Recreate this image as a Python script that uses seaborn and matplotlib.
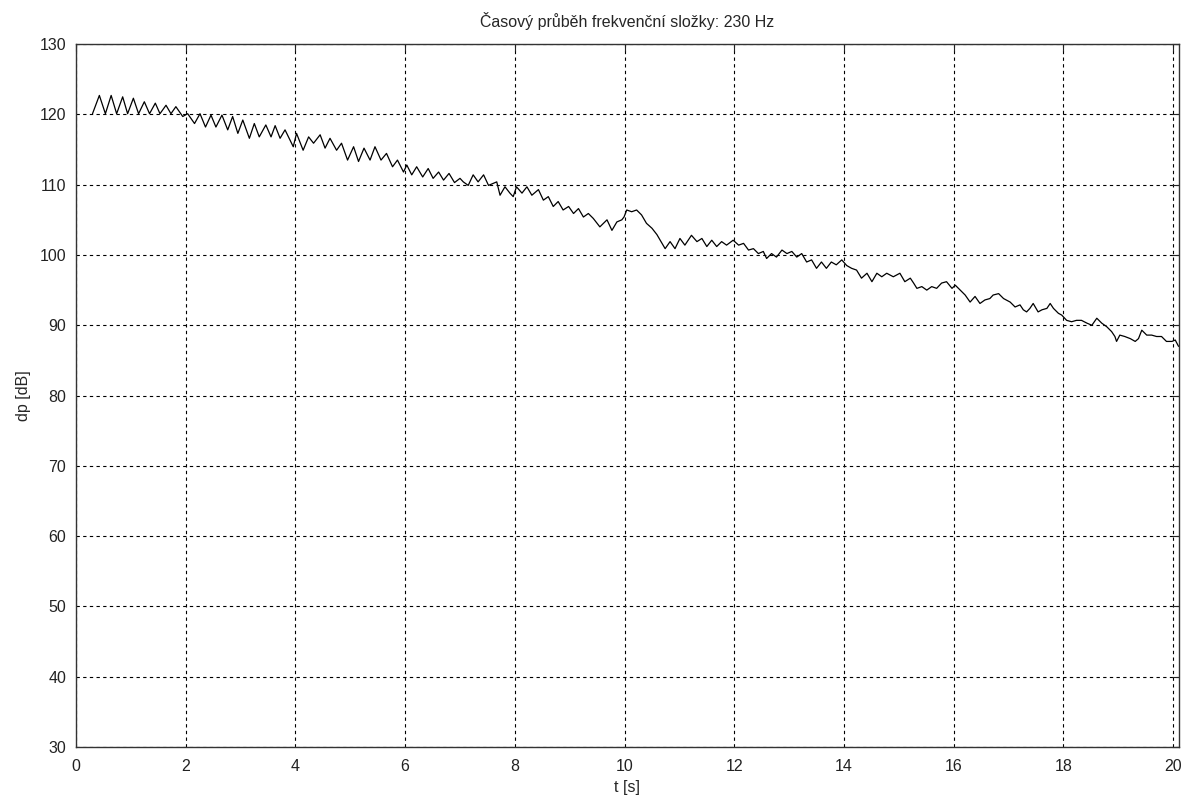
import matplotlib
matplotlib.use('Agg')
import matplotlib.pyplot as plt
import seaborn as sns
import pandas as pd

# values (time in s, level in dB)
t_s = [0.30, 0.425, 0.535, 0.64, 0.74, 0.85, 0.94, 1.045, 1.14, 1.245, 1.34, 1.445, 1.53, 1.64, 1.73, 1.82,
       1.945, 2.035, 2.16, 2.26, 2.36, 2.46, 2.55, 2.66, 2.765, 2.855, 2.95, 3.04, 3.16, 3.25, 3.34, 3.46,
       3.555, 3.63, 3.72, 3.81, 3.96, 4.02, 4.14, 4.24, 4.33, 4.45, 4.54, 4.63, 4.75, 4.84, 4.95, 5.06,
       5.15, 5.25, 5.36, 5.45, 5.56, 5.66, 5.77, 5.86, 5.97, 6.03, 6.12, 6.21, 6.32, 6.42, 6.51, 6.61,
       6.70, 6.80, 6.90, 7.00, 7.06, 7.15, 7.24, 7.33, 7.43, 7.52, 7.61, 7.67, 7.73, 7.82, 7.91, 7.97,
       8.03, 8.13, 8.22, 8.31, 8.43, 8.52, 8.61, 8.70, 8.79, 8.88, 8.98, 9.07, 9.16, 9.25, 9.34, 9.43,
       9.55, 9.68, 9.77, 9.86, 9.95, 9.99, 10.04, 10.13, 10.22, 10.31, 10.40, 10.50, 10.59, 10.65, 10.74,
       10.83, 10.92, 11.01, 11.10, 11.22, 11.32, 11.41, 11.50, 11.59, 11.68, 11.77, 11.86, 11.98, 12.08,
       12.17, 12.26, 12.35, 12.44, 12.53, 12.59, 12.68, 12.77, 12.87, 12.96, 13.05, 13.14, 13.23, 13.32,
       13.41, 13.50, 13.59, 13.68, 13.77, 13.86, 13.96, 14.05, 14.14, 14.23, 14.32, 14.42, 14.51, 14.60,
       14.69, 14.78, 14.90, 15.02, 15.11, 15.21, 15.27, 15.33, 15.42, 15.51, 15.60, 15.69, 15.78, 15.87,
       15.97, 16.03, 16.12, 16.21, 16.30, 16.39, 16.48, 16.57, 16.66, 16.72, 16.82, 16.91, 17.03, 17.12,
       17.21, 17.27, 17.33, 17.39, 17.45, 17.54, 17.61, 17.70, 17.76, 17.82, 17.91, 17.97, 18.06, 18.15,
       18.24, 18.33, 18.43, 18.52, 18.61, 18.70, 18.79, 18.88, 18.94, 18.97, 19.03, 19.12, 19.22, 19.31,
       19.37, 19.43, 19.52, 19.61, 19.70, 19.79, 19.88, 19.98, 20.04, 20.10]
dp_db = [120.1, 122.7, 120.1, 122.7, 120.1, 122.5, 120.1, 122.3, 120.1, 121.8, 120.1, 121.6, 120.1, 121.3, 120.1, 121.1,
         119.7, 120.1, 118.7, 120.1, 118.2, 119.9, 118.2, 119.9, 117.8, 119.7, 117.3, 119.2, 116.6, 118.7, 116.8, 118.5,
         116.8, 118.4, 116.6, 117.8, 115.4, 117.3, 114.9, 116.8, 115.9, 117.1, 115.2, 116.6, 114.9, 115.9, 113.5, 115.4,
         113.3, 115.2, 113.5, 115.4, 113.5, 114.45, 112.55, 113.5, 111.8, 112.8, 111.4, 112.55, 111.1, 112.3, 110.9, 111.8,
         110.65, 111.6, 110.3, 110.9, 110.4, 109.9, 111.4, 110.4, 111.4, 109.9, 110.2, 110.4, 108.5, 109.7, 108.8, 108.3,
         109.7, 108.8, 109.7, 108.5, 109.3, 107.8, 108.3, 106.9, 107.6, 106.4, 106.9, 105.9, 106.6, 105.4, 105.9, 105.2,
         104.0, 105.0, 103.5, 104.7, 105.0, 105.4, 106.4, 106.15, 106.4, 105.7, 104.5, 103.8, 102.9, 102.1, 100.9,
         101.9, 100.9, 102.35, 101.4, 102.8, 101.9, 102.35, 101.2, 102.1, 101.2, 101.9, 101.4, 102.1, 101.4,
         101.65, 100.7, 100.9, 100.2, 100.5, 99.5, 100.2, 99.7, 100.7, 100.2, 100.5, 99.7, 100.2, 99.0,
         99.3, 98.1, 99.0, 98.1, 99.0, 98.6, 99.3, 98.5, 98.1, 97.85, 96.7, 97.4, 96.2, 97.4,
         96.9, 97.4, 96.9, 97.4, 96.2, 96.7, 96.0, 95.25, 95.5, 95.0, 95.5, 95.25, 96.0, 96.2,
         95.25, 95.7, 95.0, 94.3, 93.3, 94.1, 93.1, 93.6, 93.8, 94.3, 94.5, 93.8, 93.3, 92.6,
         92.9, 92.2, 91.9, 92.4, 93.1, 91.9, 92.2, 92.4, 93.1, 92.4, 91.7, 91.45, 90.7, 90.5,
         90.7, 90.7, 90.3, 90.0, 91.0, 90.3, 89.8, 89.1, 88.4, 87.7, 88.6, 88.4, 88.1, 87.7,
         88.1, 89.3, 88.6, 88.6, 88.4, 88.4, 87.7, 87.7, 87.9, 87.0]

x_ticks = [0, 2, 4, 6, 8, 10, 12, 14, 16, 18, 20]
y_ticks = [30, 40, 50, 60, 70, 80, 90, 100, 110, 120, 130]

sns.set_style('white')
plt.rcParams['font.family'] = ['Liberation Sans', 'DejaVu Sans']
plt.rcParams['font.size'] = 11.5

df = pd.DataFrame({'t': t_s, 'dp': dp_db})

fig = plt.figure(figsize=(11.92, 8.02), dpi=100)
ax = fig.add_axes([0.0638, 0.0686, 0.9249, 0.8764])
sns.lineplot(data=df, x='t', y='dp', color='black', linewidth=0.9, estimator=None, ax=ax)

ax.set_xlim(0, 20.1)
ax.set_ylim(30, 130)
ax.set_xticks(x_ticks)
ax.set_yticks(y_ticks)
ax.grid(True, color='black', linestyle=(0, (3, 3)), linewidth=0.8)
ax.tick_params(direction='in', length=5, width=0.8, top=True, right=True,
               labelsize=11.5, colors='#222222', pad=7)
ax.tick_params(axis='x', pad=9)
for side in ax.spines.values():
    side.set_color('#333333')
    side.set_linewidth(1.0)

ax.set_title('Časový průběh frekvenční složky: 230 Hz', fontsize=11.5, pad=12)
ax.set_xlabel('t [s]', fontsize=11.5, labelpad=4)
ax.set_ylabel('dp [dB]', fontsize=11.5, labelpad=6)

fig.savefig('out.png', dpi=100, facecolor='white')
